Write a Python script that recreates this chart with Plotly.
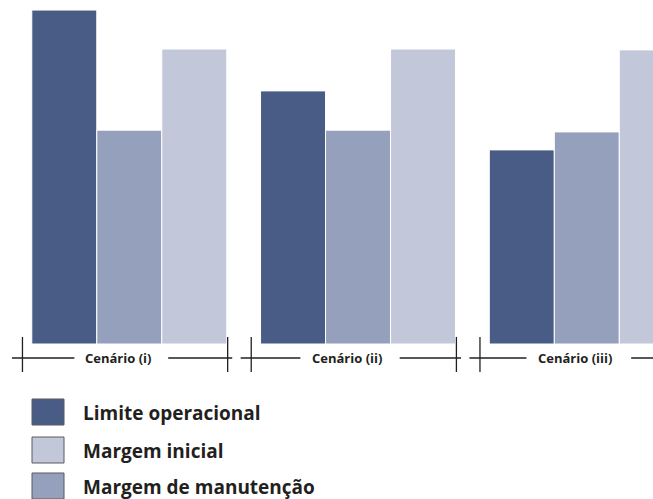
import plotly.graph_objects as go

# Scenario data (values relative to the initial margin = 100)
scenarios = ["Cenário (i)", "Cenário (ii)", "Cenário (iii)"]
limite_operacional = [113.2, 85.8, 65.8]
margem_manutencao = [72.5, 72.5, 71.9]
margem_inicial = [100.0, 100.0, 99.7]

series_names = ["Limite operacional", "Margem de manutenção", "Margem inicial"]
series_values = [limite_operacional, margem_manutencao, margem_inicial]
series_colors = ["#485c86", "#95a0bd", "#c2c7da"]

# Legend order shown under the chart
legend_order = ["Limite operacional", "Margem inicial", "Margem de manutenção"]

W, H = 653, 499
x_pos = list(range(len(scenarios)))

fig = go.Figure()
for name, vals, col in zip(series_names, series_values, series_colors):
    fig.add_trace(go.Bar(
        x=x_pos, y=vals, name=name,
        marker=dict(color=col, line=dict(color="white", width=1)),
        showlegend=False, hoverinfo="skip",
    ))

AXIS_Y = -4.75       # level of the scenario axis line (data units)
TICK_TOP, TICK_BOT = 2.4, -9.5
line_style = dict(color="#231f20", width=1.3)

shapes = []
annotations = []
for i, label in enumerate(scenarios):
    left, right = i - 0.513, i + 0.45
    lab_c = i - 0.05
    half_gap = 0.19 + 0.012 * (len(label) - 11)
    shapes.append(dict(type="line", xref="x", yref="y", x0=left, x1=lab_c - half_gap,
                       y0=AXIS_Y, y1=AXIS_Y, line=line_style))
    shapes.append(dict(type="line", xref="x", yref="y", x0=lab_c + half_gap + 0.03, x1=right,
                       y0=AXIS_Y, y1=AXIS_Y, line=line_style))
    for tx in (i - 0.467, i + 0.43):
        shapes.append(dict(type="line", xref="x", yref="y", x0=tx, x1=tx,
                           y0=TICK_TOP, y1=TICK_BOT, line=line_style))
    annotations.append(dict(x=lab_c, y=AXIS_Y, xref="x", yref="y", text=label,
                            showarrow=False, xanchor="center", yanchor="middle",
                            font=dict(family="Open Sans", size=13, color="#231f20", weight="bold")))

# Hand-drawn legend (large swatches)
color_of = dict(zip(series_names, series_colors))
row_tops = [399, 437, 473]
for name, top in zip(legend_order, row_tops):
    shapes.append(dict(type="rect", xref="paper", yref="paper",
                       x0=32 / W, x1=64 / W, y0=1 - (top + 26) / H, y1=1 - top / H,
                       fillcolor=color_of[name], line=dict(color="#5a5a5a", width=1)))
    annotations.append(dict(x=81 / W, y=1 - (top + 14) / H, xref="paper", yref="paper",
                            text=name, showarrow=False, xanchor="left", yanchor="middle",
                            font=dict(family="Open Sans", size=19, color="#231f20", weight="bold")))

fig.update_layout(
    width=W, height=H,
    margin=dict(l=0, r=0, t=0, b=0),
    paper_bgcolor="white", plot_bgcolor="white",
    barmode="group", bargap=0.1475, bargroupgap=0,
    xaxis=dict(range=[-0.5652, 2.2894], visible=False, fixedrange=True),
    yaxis=dict(range=[-52.54, 116.61], visible=False, fixedrange=True),
    shapes=shapes, annotations=annotations,
)

fig.write_html("out.html", config={"displayModeBar": False})
